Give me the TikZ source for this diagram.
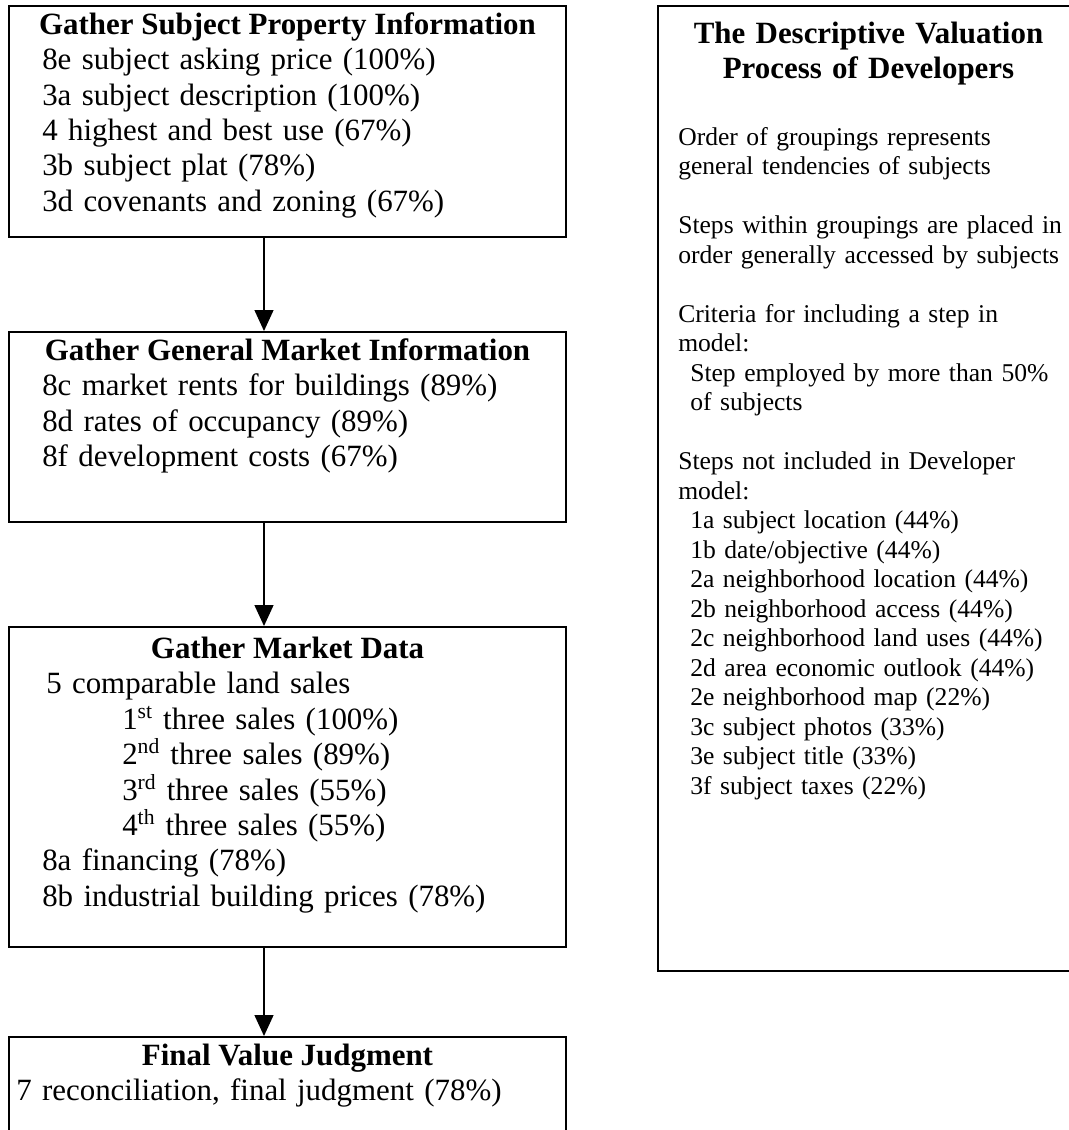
\documentclass[tikz,border=0pt]{standalone}
\usepackage{fontspec}
\setmainfont{Liberation Serif}
\usetikzlibrary{arrows.meta}

\begin{document}
\begin{tikzpicture}[
  stage/.style={draw, line width=0.05cm, inner sep=0pt,
                minimum width=13.925cm},
  head/.style={font=\fontsize{22}{25.25}\selectfont\bfseries,
               anchor=base, inner sep=0pt},
  steps/.style={font=\fontsize{22}{25.25}\selectfont, align=left,
                text width=13cm, anchor=base west, inner sep=0pt},
  note/.style={font=\fontsize{18.2}{21}\selectfont, align=left,
               text width=9.8cm, anchor=base west, inner sep=0pt},
  arr/.style={-{Triangle[length=0.525cm, width=0.475cm]}, line width=0.035cm},
]
  \useasboundingbox (0,0) rectangle (26.725,-28.25);
  \clip (0,0) rectangle (26.725,-28.25);

  % groupings of the model
  \node[stage, minimum height=5.775cm] (subj) at (7.1875,-3.0375) {};
  \node[head] (subjH) at (7.1875,-0.85) {Gather Subject Property Information};
  \node[steps] (subjL) at (1.05,-1.7375)
       {8e subject asking price (100\%)\\
        3a subject description (100\%)\\
        4 highest and best use (67\%)\\
        3b subject plat (78\%)\\
        3d covenants and zoning (67\%)};

  \node[stage, minimum height=4.75cm] (gen) at (7.1875,-10.675) {};
  \node[head] (genH) at (7.1875,-9.0) {Gather General Market Information};
  \node[steps] (genL) at (1.05,-9.8875)
       {8c market rents for buildings (89\%)\\
        8d rates of occupancy (89\%)\\
        8f development costs (67\%)};

  \node[stage, minimum height=8.0cm] (mkt) at (7.1875,-19.675) {};
  \node[head] (mktH) at (7.1875,-16.45) {Gather Market Data};
  \node[steps] (mktL) at (1.05,-17.3375)
       {\hspace*{0.1cm}5 comparable land sales\\
        \hspace*{2cm}1\textsuperscript{st} three sales (100\%)\\
        \hspace*{2cm}2\textsuperscript{nd} three sales (89\%)\\
        \hspace*{2cm}3\textsuperscript{rd} three sales (55\%)\\
        \hspace*{2cm}4\textsuperscript{th} three sales (55\%)\\
        8a financing (78\%)\\
        8b industrial building prices (78\%)};

  \node[stage, minimum height=2.425cm] (fin) at (7.1875,-27.1375) {};
  \node[head] (finH) at (7.1875,-26.625) {Final Value Judgment};
  \node[steps] (finL) at (0.4,-27.5125)
       {7 reconciliation, final judgment (78\%)};

  % side panel
  \node[stage, minimum width=10.525cm, minimum height=24.125cm]
       (model) at (21.7125,-12.2125) {};
  \node[head, align=center, text width=10cm] (modelH) at (21.7125,-1.075)
       {The Descriptive Valuation\\Process of Developers};
  \node[note] (modelL) at (16.95,-3.625)
       {Order of groupings represents\\
        general tendencies of subjects\\[21pt]
        Steps within groupings are placed in\\
        order generally accessed by subjects\\[21pt]
        Criteria for including a step in\\
        model:\\
        \hspace*{0.3cm}Step employed by more than 50\%\\
        \hspace*{0.3cm}of subjects\\[21pt]
        Steps not included in Developer\\
        model:\\
        \hspace*{0.3cm}1a subject location (44\%)\\
        \hspace*{0.3cm}1b date/objective (44\%)\\
        \hspace*{0.3cm}2a neighborhood location (44\%)\\
        \hspace*{0.3cm}2b neighborhood access (44\%)\\
        \hspace*{0.3cm}2c neighborhood land uses (44\%)\\
        \hspace*{0.3cm}2d area economic outlook (44\%)\\
        \hspace*{0.3cm}2e neighborhood map (22\%)\\
        \hspace*{0.3cm}3c subject photos (33\%)\\
        \hspace*{0.3cm}3e subject title (33\%)\\
        \hspace*{0.3cm}3f subject taxes (22\%)};

  \draw[arr] ([xshift=-0.5875cm]subj.south) -- ([xshift=-0.5875cm]gen.north);
  \draw[arr] ([xshift=-0.5875cm]gen.south) -- ([xshift=-0.5875cm]mkt.north);
  \draw[arr] ([xshift=-0.5875cm]mkt.south) -- ([xshift=-0.5875cm]fin.north);
\end{tikzpicture}
\end{document}
